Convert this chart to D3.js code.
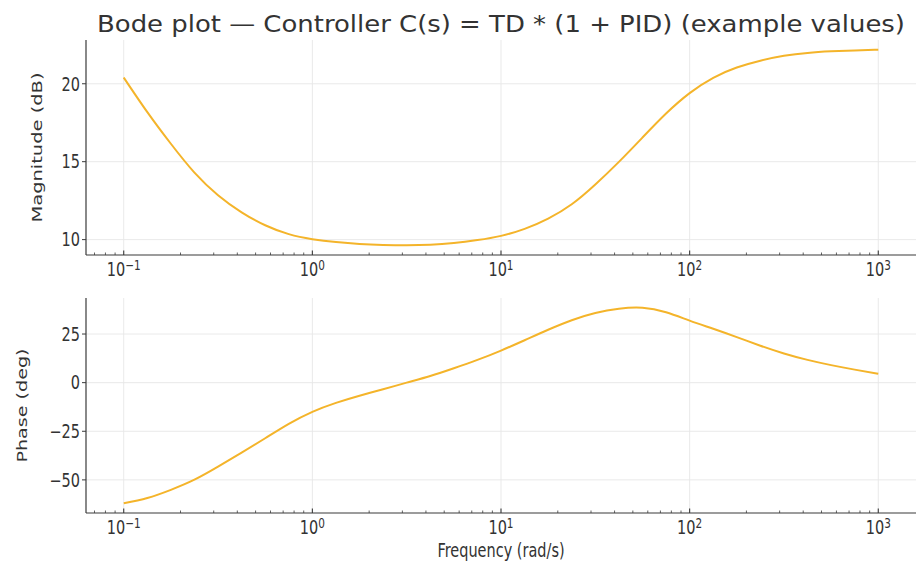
<!DOCTYPE html>
<html>
<head>
<meta charset="utf-8">
<script src="https://cdn.jsdelivr.net/npm/d3@7"></script>
<style>
  body { margin: 0; background: #fff; }
  svg { display: block; font-family: "DejaVu Sans", sans-serif; }
</style>
</head>
<body>
<svg id="chart" width="916" height="569"></svg>
<script>
// frequency samples (rad/s), 8 per decade
const freq = [0.1, 0.1334, 0.1778, 0.2371, 0.3162, 0.4217, 0.5623, 0.7499,
              1, 1.334, 1.778, 2.371, 3.162, 4.217, 5.623, 7.499,
              10, 13.34, 17.78, 23.71, 31.62, 42.17, 56.23, 74.99,
              100, 133.4, 177.8, 237.1, 316.2, 421.7, 562.3, 749.9, 1000];
const magDb = [20.4, 18.18, 16.15, 14.3, 12.85, 11.75, 10.92, 10.35,
               10.03, 9.84, 9.72, 9.66, 9.64, 9.67, 9.78, 9.97,
               10.24, 10.69, 11.35, 12.27, 13.54, 14.99, 16.55, 18.09,
               19.40, 20.38, 21.04, 21.48, 21.79, 21.98, 22.08, 22.14, 22.18];
const phaseDeg = [-62.0, -59.3, -55.1, -49.9, -43.2, -36.0, -28.6, -21.2,
                  -15.0, -10.4, -6.7, -3.4, 0.0, 3.4, 7.4, 11.7,
                  16.5, 21.8, 27.2, 32.1, 35.8, 38.0, 38.5, 36.2,
                  31.9, 27.7, 23.4, 19.0, 15.0, 11.7, 9.0, 6.7, 4.6];

const xDecades = [-1, 0, 1, 2, 3];
const magTicks = [10, 15, 20];
const phaseTicks = [-50, -25, 0, 25];

const titleText = "Bode plot \u2014 Controller C(s) = TD * (1 + PID) (example values)";
const magLabel = "Magnitude (dB)";
const phaseLabel = "Phase (deg)";
const xLabel = "Frequency (rad/s)";

const left = 86, right = 916;
const lineColor = "#f4b42a";
const gridColor = "#e6e6e6";
const spineColor = "#3a3a3a";
const textColor = "#333";
const stretchY = 1.3;   // text in the picture looks a bit taller than wide

const svg = d3.select("#chart");

// log x scale with 5% margins in log space
const x = d3.scaleLog()
    .domain([Math.pow(10, -1.2), Math.pow(10, 3.2)])
    .range([left, right]);

function padded(vals) {
    let lo = d3.min(vals), hi = d3.max(vals);
    let m = (hi - lo) * 0.05;
    return [lo - m, hi + m];
}

function fmt(d) {
    return d < 0 ? "\u2212" + Math.abs(d) : String(d);
}

function drawPanel(top, bottom, values, ticks, label, labelX, labelLen) {
    let y = d3.scaleLinear().domain(padded(values)).range([bottom, top]);
    let g = svg.append("g");

    // grid
    g.selectAll(".gx").data(xDecades).enter().append("line")
        .attr("x1", d => x(Math.pow(10, d))).attr("x2", d => x(Math.pow(10, d)))
        .attr("y1", top).attr("y2", bottom)
        .attr("stroke", gridColor).attr("stroke-width", 0.9);
    g.selectAll(".gy").data(ticks).enter().append("line")
        .attr("x1", left).attr("x2", right)
        .attr("y1", d => y(d)).attr("y2", d => y(d))
        .attr("stroke", gridColor).attr("stroke-width", 0.9);

    // curve
    let line = d3.line()
        .x((d, i) => x(freq[i]))
        .y(d => y(d))
        .curve(d3.curveNatural);
    g.append("path")
        .attr("d", line(values))
        .attr("fill", "none")
        .attr("stroke", lineColor)
        .attr("stroke-width", 2);

    // spines
    g.append("line").attr("x1", left).attr("x2", left).attr("y1", top).attr("y2", bottom)
        .attr("stroke", spineColor).attr("stroke-width", 1.2);
    g.append("line").attr("x1", left).attr("x2", right).attr("y1", bottom).attr("y2", bottom)
        .attr("stroke", spineColor).attr("stroke-width", 1.2);

    // y ticks
    g.selectAll(".ty").data(ticks).enter().append("line")
        .attr("x1", left - 4).attr("x2", left)
        .attr("y1", d => y(d)).attr("y2", d => y(d))
        .attr("stroke", spineColor).attr("stroke-width", 1);
    g.selectAll(".ly").data(ticks).enter().append("text")
        .attr("transform", d => "translate(" + (left - 6) + "," + y(d) + ") scale(1," + stretchY + ")")
        .attr("dy", "0.36em")
        .attr("text-anchor", "end")
        .attr("font-size", 14.5)
        .attr("fill", textColor)
        .text(fmt);

    // x minor + major ticks
    let minors = [];
    for (let e = -2; e <= 3; e++) {
        for (let k = 2; k <= 9; k++) {
            let v = k * Math.pow(10, e);
            if (v >= x.domain()[0] && v <= x.domain()[1]) minors.push(v);
        }
    }
    g.selectAll(".mx").data(minors).enter().append("line")
        .attr("x1", d => x(d)).attr("x2", d => x(d))
        .attr("y1", bottom - 2.5).attr("y2", bottom)
        .attr("stroke", spineColor).attr("stroke-width", 0.8);
    g.selectAll(".tx").data(xDecades).enter().append("line")
        .attr("x1", d => x(Math.pow(10, d))).attr("x2", d => x(Math.pow(10, d)))
        .attr("y1", bottom - 4.5).attr("y2", bottom)
        .attr("stroke", spineColor).attr("stroke-width", 1.1);

    let lx = g.selectAll(".lx").data(xDecades).enter().append("text")
        .attr("transform", d => "translate(" + x(Math.pow(10, d)) + "," + (bottom + 21) + ") scale(1," + stretchY + ")")
        .attr("text-anchor", "middle")
        .attr("font-size", 14.5)
        .attr("fill", textColor);
    lx.append("tspan").text("10");
    lx.append("tspan")
        .attr("dy", -5)
        .attr("font-size", 10.5)
        .text(fmt);

    // y label, longer along its axis like the picture
    svg.append("text")
        .attr("transform", "translate(" + labelX + "," + ((top + bottom) / 2) + ") rotate(-90)")
        .attr("text-anchor", "middle")
        .attr("font-size", 14)
        .attr("textLength", labelLen)
        .attr("lengthAdjust", "spacingAndGlyphs")
        .attr("fill", textColor)
        .text(label);
}

drawPanel(40, 255, magDb, magTicks, magLabel, 42, 150);
drawPanel(298, 513, phaseDeg, phaseTicks, phaseLabel, 27, 114);

svg.append("text")
    .attr("x", (left + right) / 2).attr("y", 32)
    .attr("text-anchor", "middle")
    .attr("font-size", 23)
    .attr("textLength", 808)
    .attr("lengthAdjust", "spacingAndGlyphs")
    .attr("fill", textColor)
    .text(titleText);

svg.append("text")
    .attr("transform", "translate(" + ((left + right) / 2) + ",557) scale(1," + stretchY + ")")
    .attr("text-anchor", "middle")
    .attr("font-size", 14.5)
    .attr("fill", textColor)
    .text(xLabel);
</script>
</body>
</html>
